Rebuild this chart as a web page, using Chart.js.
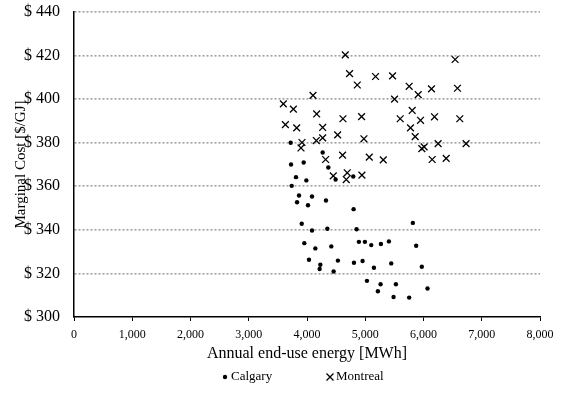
<!DOCTYPE html>
<html>
<head>
<meta charset="utf-8">
<script src="https://cdn.jsdelivr.net/npm/chart.js@4.4.1/dist/chart.umd.min.js"></script>
<style>
  html, body { margin: 0; padding: 0; background: #ffffff; }
  #wrap { width: 566px; height: 397px; }
</style>
</head>
<body>
<div id="wrap"><canvas id="c" width="566" height="397"></canvas></div>
<script>
// ---- data ----
const seriesNames = ["Calgary", "Montreal"];

const calgaryEnergy = [3720, 3726, 3943, 4269, 4366, 3811, 3989, 4491, 4794, 3737,
  3863, 4086, 3829, 4017, 4326, 4800, 3909, 4086, 4349, 4851,
  5817, 3954, 4143, 4417, 4891, 4994, 5103, 5269, 5406, 5874,
  4034, 4229, 4217, 4531, 4457, 4806, 4954, 5149, 5446, 5971,
  5029, 5263, 5526, 5217, 6069, 5486, 5754];
const calgaryCost = [380.0, 370.0, 370.9, 375.5, 368.6, 364.2, 362.7, 363.1, 364.5, 360.2,
  355.8, 355.3, 352.7, 351.3, 353.5, 349.5, 342.8, 339.7, 340.5, 340.3,
  343.2, 333.9, 331.5, 332.4, 334.5, 334.5, 333.0, 333.5, 334.7, 332.7,
  326.3, 324.0, 322.0, 325.9, 320.9, 324.9, 325.7, 322.6, 324.6, 323.1,
  316.6, 315.0, 315.0, 311.8, 313.1, 309.2, 308.9];

const montrealEnergy = [4657, 6543, 4731, 4863, 5177, 5469, 5754, 5909, 6137, 6583,
  4103, 5503, 3594, 3766, 4166, 4617, 4937, 5600, 5806, 5949,
  6189, 6623, 3629, 3823, 4269, 4526, 4269, 4160, 3914, 3897,
  4977, 5777, 5857, 5971, 6011, 6251, 6731, 4320, 4611, 5069,
  5309, 6149, 6389, 4451, 4691, 4674, 4943];
const montrealCost = [420.3, 418.2, 411.7, 406.5, 410.4, 410.7, 405.9, 402.1, 404.7, 405.0,
  401.7, 400.0, 397.8, 395.4, 393.2, 391.0, 392.0, 391.0, 394.8, 390.3,
  391.9, 391.0, 388.3, 386.8, 387.0, 383.6, 382.2, 381.0, 380.1, 377.6,
  381.8, 386.8, 382.8, 377.3, 378.1, 379.6, 379.6, 372.3, 374.3, 373.4,
  372.1, 372.3, 372.8, 364.8, 366.2, 363.1, 365.1];

const xRange = [0, 8000];      // Annual end-use energy [MWh]
const xStep = 1000;
const yRange = [300, 440];     // Marginal cost [$/GJ]
const yStep = 20;

const xTitle = "Annual end-use energy [MWh]";
const yTitle = "Marginal Cost [$/GJ]";

// ---- build ----
const toPoints = (xs, ys) => xs.map((x, i) => ({ x: x, y: ys[i] }));
const SERIF = "'Liberation Serif', 'Times New Roman', serif";

const yTitlePlugin = {
  id: 'yTitlePlugin',
  afterDraw(chart) {
    const ctx = chart.ctx;
    const area = chart.chartArea;
    ctx.save();
    ctx.translate(21, (area.top + area.bottom) / 2);
    ctx.rotate(-Math.PI / 2);
    ctx.font = "15px " + SERIF;
    ctx.fillStyle = "#000";
    ctx.textAlign = "center";
    ctx.textBaseline = "middle";
    ctx.fillText(yTitle, 0, 0);
    ctx.restore();
  }
};

const legendPlugin = {
  id: 'customLegend',
  afterDraw(chart) {
    const ctx = chart.ctx;
    const y = 377;
    ctx.save();
    ctx.font = "13px " + SERIF;
    ctx.fillStyle = "#000";
    ctx.textBaseline = "middle";
    ctx.textAlign = "left";
    // Calgary marker
    const ds0 = chart.data.datasets[0];
    ctx.beginPath();
    ctx.arc(225, y, 2.2, 0, Math.PI * 2);
    ctx.fillStyle = ds0.backgroundColor;
    ctx.fill();
    ctx.fillStyle = "#000";
    ctx.fillText(ds0.label, 231, y);
    // Montreal marker
    const ds1 = chart.data.datasets[1];
    ctx.strokeStyle = ds1.borderColor;
    ctx.lineWidth = 1.3;
    ctx.beginPath();
    ctx.moveTo(326.5, y - 3.5); ctx.lineTo(333.5, y + 3.5);
    ctx.moveTo(333.5, y - 3.5); ctx.lineTo(326.5, y + 3.5);
    ctx.stroke();
    ctx.fillText(ds1.label, 336, y);
    ctx.restore();
  }
};

new Chart(document.getElementById('c'), {
  type: 'scatter',
  data: {
    datasets: [
      {
        label: seriesNames[0],
        data: toPoints(calgaryEnergy, calgaryCost),
        pointStyle: 'circle',
        pointRadius: 2.2,
        pointHoverRadius: 2.2,
        backgroundColor: '#000000',
        borderColor: '#000000',
        borderWidth: 0
      },
      {
        label: seriesNames[1],
        data: toPoints(montrealEnergy, montrealCost),
        pointStyle: 'crossRot',
        pointRadius: 4.8,
        pointHoverRadius: 4.8,
        backgroundColor: '#000000',
        borderColor: '#000000',
        borderWidth: 1.3
      }
    ]
  },
  options: {
    responsive: false,
    animation: false,
    layout: { padding: { left: 0, right: 26, top: 12, bottom: 34 } },
    plugins: {
      legend: { display: false },
      tooltip: { enabled: false },
      title: { display: false }
    },
    scales: {
      x: {
        type: 'linear',
        min: xRange[0],
        max: xRange[1],
        afterFit(scale) { scale.height = 46; },
        ticks: {
          stepSize: xStep,
          color: '#000',
          font: { family: SERIF, size: 12 },
          padding: 7,
          maxRotation: 0,
          callback: (v) => v.toLocaleString('en-US')
        },
        grid: {
          drawOnChartArea: false,
          drawTicks: true,
          tickLength: 4,
          tickColor: '#000',
          tickWidth: 1
        },
        border: { display: true, color: '#000', width: 1.5 },
        title: {
          display: true,
          text: xTitle,
          color: '#000',
          font: { family: SERIF, size: 16 },
          padding: { top: 0, bottom: 0 }
        }
      },
      y: {
        type: 'linear',
        min: yRange[0],
        max: yRange[1],
        afterFit(scale) { scale.width = 74; },
        ticks: {
          stepSize: yStep,
          color: '#000',
          font: { family: SERIF, size: 16 },
          padding: 0,
          callback: (v) => '$ ' + v
        },
        grid: {
          drawTicks: true,
          tickLength: 14,
          tickColor: 'rgba(0,0,0,0)',
          color: (c) => (c.tick && c.tick.value === yRange[0]) ? 'rgba(0,0,0,0)' : '#a0a0a0',
          lineWidth: 1.6
        },
        border: { display: true, color: '#000', width: 1.5, dash: [2, 2] }
      }
    }
  },
  plugins: [yTitlePlugin, legendPlugin]
});
</script>
</body>
</html>
